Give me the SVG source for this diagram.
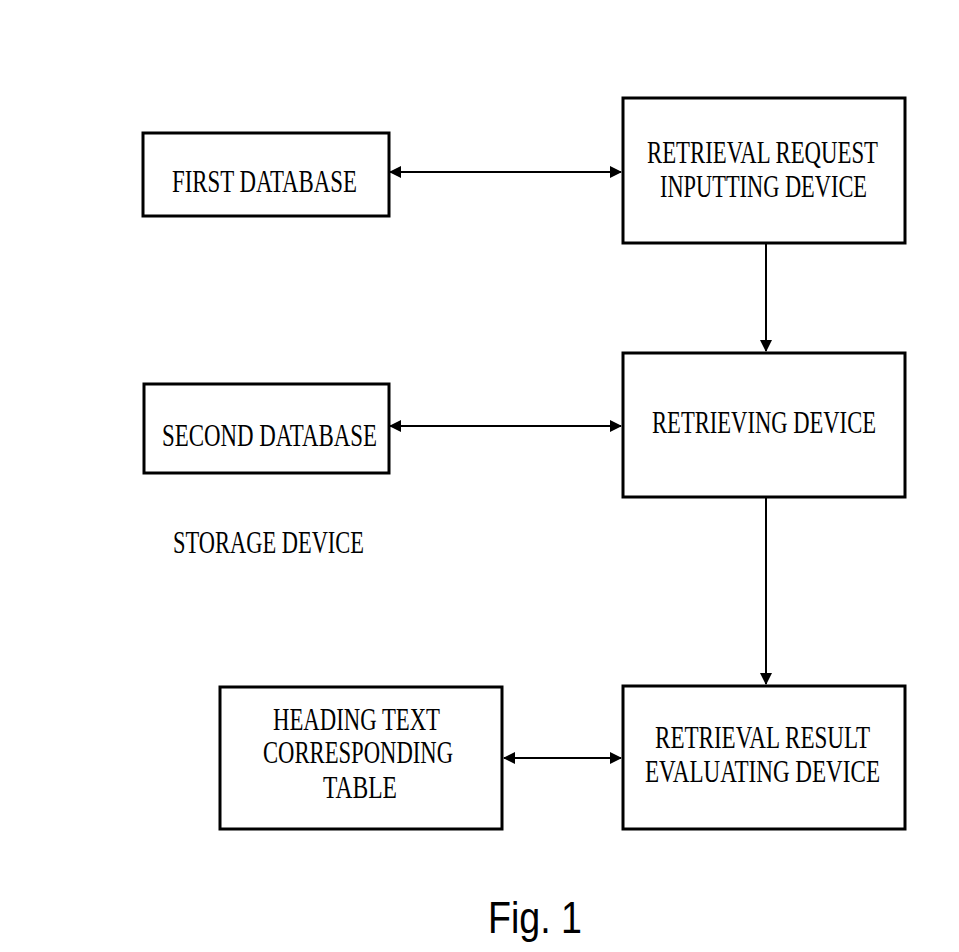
<svg xmlns="http://www.w3.org/2000/svg" width="959" height="952" viewBox="0 0 959 952">
<style>
.box{fill:#fff;stroke:#000;stroke-width:3}
.lbl{font-family:"Liberation Serif","Times New Roman",serif;font-size:22px;fill:#000;text-anchor:middle}
.fig{font-family:"Liberation Sans",Arial,sans-serif;font-size:38px;fill:#000;text-anchor:middle}
.conn{stroke:#000;stroke-width:2;fill:none}
</style>
<defs>
<marker id="ah" markerUnits="userSpaceOnUse" markerWidth="12" markerHeight="14" refX="11" refY="7" orient="auto-start-reverse" viewBox="0 0 12 14">
<path d="M0,1 L12,7 L0,13 Z" fill="#000"/>
</marker>
</defs>
<rect width="959" height="952" fill="#fff"/>
<g id="connectors">
<line class="conn" x1="390" y1="172" x2="621" y2="172" marker-start="url(#ah)" marker-end="url(#ah)"/>
<line class="conn" x1="390" y1="426" x2="621" y2="426" marker-start="url(#ah)" marker-end="url(#ah)"/>
<line class="conn" x1="504" y1="758" x2="621" y2="758" marker-start="url(#ah)" marker-end="url(#ah)"/>
<line class="conn" x1="766" y1="244" x2="766" y2="351" marker-end="url(#ah)"/>
<line class="conn" x1="766" y1="498" x2="766" y2="684" marker-end="url(#ah)"/>
</g>
<g id="first-database">
<rect class="box" x="143" y="133" width="246" height="83"/>
<text class="lbl" transform="translate(264.5,192) scale(1,1.41)" textLength="185" lengthAdjust="spacingAndGlyphs">FIRST DATABASE</text>
</g>
<g id="retrieval-request">
<rect class="box" x="623" y="98" width="282" height="145"/>
<text class="lbl" transform="translate(762.5,163) scale(1,1.41)" textLength="231" lengthAdjust="spacingAndGlyphs">RETRIEVAL REQUEST</text>
<text class="lbl" transform="translate(763.5,197) scale(1,1.41)" textLength="207" lengthAdjust="spacingAndGlyphs">INPUTTING DEVICE</text>
</g>
<g id="second-database">
<rect class="box" x="144" y="384" width="245" height="89"/>
<text class="lbl" transform="translate(269.5,446) scale(1,1.41)" textLength="215" lengthAdjust="spacingAndGlyphs">SECOND DATABASE</text>
</g>
<g id="retrieving-device">
<rect class="box" x="623" y="353" width="282" height="144"/>
<text class="lbl" transform="translate(764,433) scale(1,1.41)" textLength="224" lengthAdjust="spacingAndGlyphs">RETRIEVING DEVICE</text>
</g>
<g id="storage-device">
<text class="lbl" transform="translate(268.5,553) scale(1,1.41)" textLength="191" lengthAdjust="spacingAndGlyphs">STORAGE DEVICE</text>
</g>
<g id="heading-text-table">
<rect class="box" x="220" y="687" width="282" height="142"/>
<text class="lbl" transform="translate(356.5,730) scale(1,1.41)" textLength="167" lengthAdjust="spacingAndGlyphs">HEADING TEXT</text>
<text class="lbl" transform="translate(358,763) scale(1,1.41)" textLength="190" lengthAdjust="spacingAndGlyphs">CORRESPONDING</text>
<text class="lbl" transform="translate(360,798) scale(1,1.41)" textLength="74" lengthAdjust="spacingAndGlyphs">TABLE</text>
</g>
<g id="retrieval-result">
<rect class="box" x="623" y="686" width="282" height="143"/>
<text class="lbl" transform="translate(762.5,748) scale(1,1.41)" textLength="215" lengthAdjust="spacingAndGlyphs">RETRIEVAL RESULT</text>
<text class="lbl" transform="translate(762.5,782) scale(1,1.41)" textLength="235" lengthAdjust="spacingAndGlyphs">EVALUATING DEVICE</text>
</g>
<text class="fig" transform="translate(535,933) scale(1,1.18)" textLength="94" lengthAdjust="spacingAndGlyphs">Fig. 1</text>
</svg>
